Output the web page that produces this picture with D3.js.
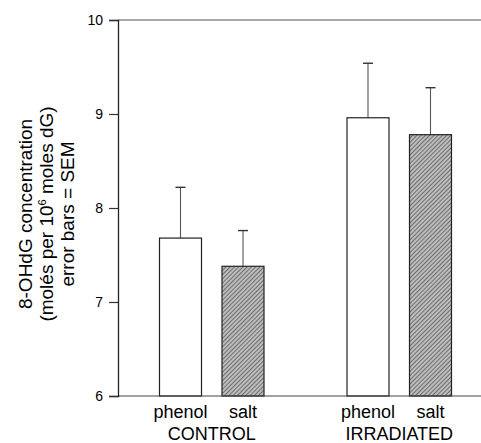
<!DOCTYPE html>
<html lang="en">
<head>
    <meta charset="UTF-8">
    <title>8-OHdG concentration</title>
    <style>
        body {
            margin: 0;
            padding: 0;
            background: #fff;
            font-family: "Liberation Sans", Arial, sans-serif;
        }
        .tick-label { font-size: 14px; fill: #000; }
        .cat-label { font-size: 18px; fill: #000; }
        .y-title { font-size: 19px; fill: #000; }
    </style>
</head>
<body>
<svg id="chart" width="481" height="443"></svg>

<script src="https://d3js.org/d3.v7.min.js"></script>
<script>
    // data
    var groups = ["CONTROL", "IRRADIATED"];
    var treatments = ["phenol", "salt"];
    var means = [[7.68, 7.38], [8.96, 8.78]];
    var sems = [[0.54, 0.38], [0.58, 0.50]];
    var yTicks = [6, 7, 8, 9, 10];

    var svg = d3.select("#chart");

    var mLeft = 118, mTop = 20, mBottom = 396, mRight = 481;

    var y = d3.scaleLinear().domain([6, 10]).range([mBottom, mTop]);

    var x0 = d3.scaleBand()
        .domain(groups)
        .range([mLeft, mLeft + 375]);

    var x1 = d3.scaleBand()
        .domain(treatments)
        .range([0, x0.bandwidth()])
        .paddingInner(0.328)
        .paddingOuter(0.664);

    // hatch pattern for salt bars
    var defs = svg.append("defs");
    var pat = defs.append("pattern")
        .attr("id", "hatch")
        .attr("patternUnits", "userSpaceOnUse")
        .attr("width", 3)
        .attr("height", 3)
        .attr("patternTransform", "rotate(45)");
    pat.append("rect").attr("width", 3).attr("height", 3).attr("fill", "#bdbdbd");
    pat.append("line")
        .attr("x1", 0).attr("y1", 0).attr("x2", 0).attr("y2", 3)
        .attr("stroke", "#4a4a4a").attr("stroke-width", 1.4);

    var rows = [];
    groups.forEach(function (g, i) {
        treatments.forEach(function (t, j) {
            rows.push({ group: g, treat: t, mean: means[i][j], sem: sems[i][j] });
        });
    });

    // error bars (drawn first, bars cover the lower half)
    var eb = svg.append("g").attr("stroke", "#555").attr("stroke-width", 1.1);
    rows.forEach(function (d) {
        var cx = x0(d.group) + x1(d.treat) + x1.bandwidth() / 2;
        eb.append("line")
            .attr("x1", cx).attr("x2", cx)
            .attr("y1", y(d.mean)).attr("y2", y(d.mean + d.sem));
        eb.append("line")
            .attr("x1", cx - 5).attr("x2", cx + 5)
            .attr("y1", y(d.mean + d.sem)).attr("y2", y(d.mean + d.sem))
            .attr("stroke", "#333").attr("stroke-width", 1.4);
    });

    svg.selectAll(".bar")
        .data(rows)
        .enter().append("rect")
        .attr("class", "bar")
        .attr("x", d => x0(d.group) + x1(d.treat))
        .attr("y", d => y(d.mean))
        .attr("width", x1.bandwidth())
        .attr("height", d => y(6) - y(d.mean))
        .attr("fill", d => d.treat === "salt" ? "url(#hatch)" : "#fff")
        .attr("stroke", "#222")
        .attr("stroke-width", 1.2);

    // axes frame
    svg.append("line")
        .attr("x1", mLeft).attr("x2", mRight).attr("y1", mTop).attr("y2", mTop)
        .attr("stroke", "#555").attr("stroke-width", 1.2);
    svg.append("line")
        .attr("x1", mLeft).attr("x2", mRight).attr("y1", mBottom).attr("y2", mBottom)
        .attr("stroke", "#444").attr("stroke-width", 1.2);

    var yAxis = d3.axisLeft(y).tickValues(yTicks).tickSize(9).tickPadding(6).tickFormat(d3.format("d"));
    var ya = svg.append("g")
        .attr("transform", "translate(" + mLeft + ",0)")
        .call(yAxis);
    ya.attr("font-family", null).attr("font-size", null);
    ya.select(".domain").attr("stroke", "#222").attr("stroke-width", 1.3);
    ya.selectAll(".tick line").attr("stroke", "#333").attr("stroke-width", 1.2);
    ya.selectAll(".tick text").attr("class", "tick-label");

    // category labels
    rows.forEach(function (d) {
        svg.append("text")
            .attr("class", "cat-label")
            .attr("x", x0(d.group) + x1(d.treat) + x1.bandwidth() / 2)
            .attr("y", 418)
            .attr("text-anchor", "middle")
            .text(d.treat);
    });
    groups.forEach(function (g) {
        svg.append("text")
            .attr("class", "cat-label")
            .attr("x", x0(g) + x0.bandwidth() / 2)
            .attr("y", 440)
            .attr("text-anchor", "middle")
            .text(g);
    });

    // y title
    var yt = svg.append("g").attr("transform", "translate(0,214) rotate(-90)");
    yt.append("text").attr("class", "y-title").attr("y", 32)
        .attr("text-anchor", "middle").text("8-OHdG concentration");
    var l2 = yt.append("text").attr("class", "y-title").attr("y", 53)
        .attr("text-anchor", "middle");
    l2.append("tspan").text("(molés per 10");
    l2.append("tspan").attr("font-size", "11px").attr("dy", -7).text("6");
    l2.append("tspan").attr("dy", 7).text(" moles dG)");
    yt.append("text").attr("class", "y-title").attr("y", 74)
        .attr("text-anchor", "middle").text("error bars = SEM");
</script>
</body>
</html>
